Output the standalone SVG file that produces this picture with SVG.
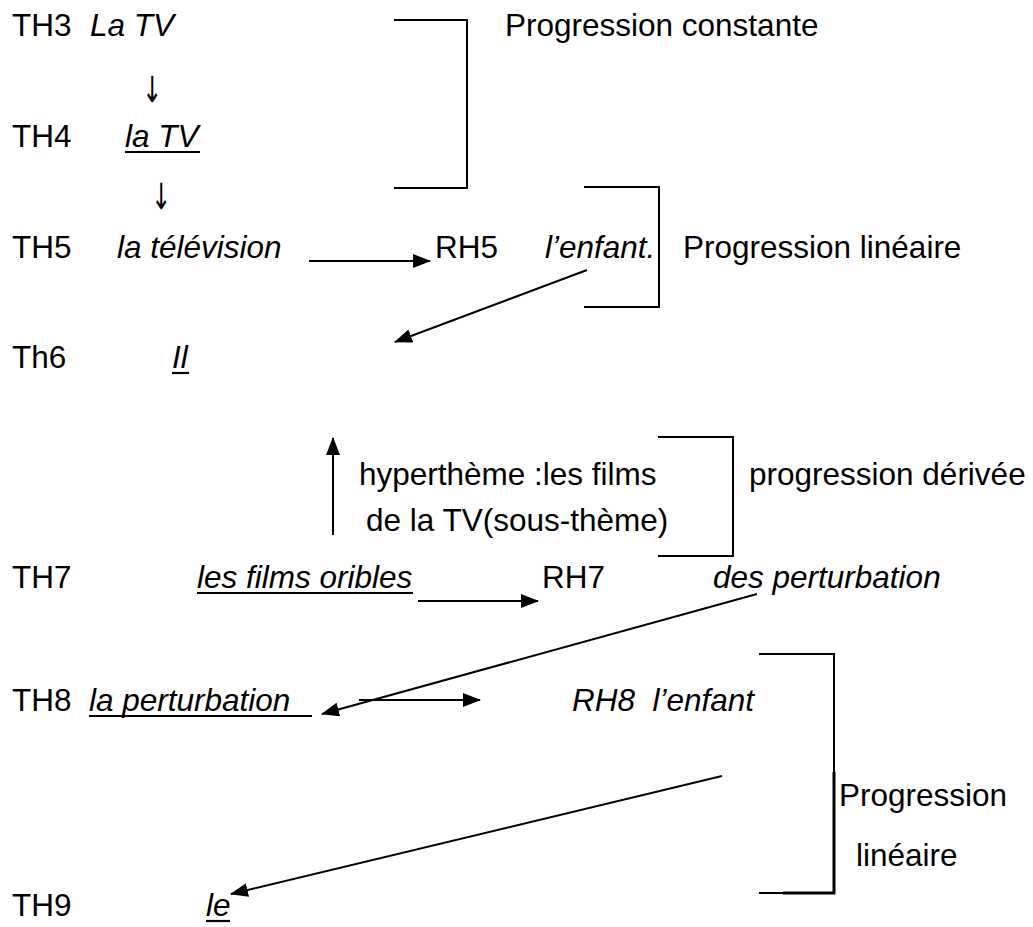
<svg xmlns="http://www.w3.org/2000/svg" width="1033" height="927" viewBox="0 0 1033 927">
<style>
text{font-family:"Liberation Sans",Arial,sans-serif;font-size:31.5px;fill:#000}
.i{font-style:italic}
.u{stroke:#000;stroke-width:2.2}
.c{stroke:#000;stroke-width:2;fill:none}
.b{stroke:#000;stroke-width:2;fill:none}
.arr{font-family:"DejaVu Sans",sans-serif;font-size:24px}
</style>
<defs>
<marker id="ah" markerUnits="userSpaceOnUse" markerWidth="18" markerHeight="14" refX="17" refY="7" orient="auto">
<path d="M0,0 L18,7 L0,14 z" fill="#000"/>
</marker>
</defs>
<rect width="1033" height="927" fill="#fff"/>
<g id="th3"><text x="12" y="36">TH3</text><text class="i" x="90" y="36">La TV</text></g>
<g id="th4"><text x="12" y="147">TH4</text><text class="i" x="125" y="147">la TV</text><line class="u" x1="125" y1="152" x2="200" y2="152"/></g>
<g id="th5"><text x="12" y="258">TH5</text><text class="i" x="117" y="258">la télévision</text></g>
<g id="rh5"><text x="435" y="258">RH5</text><text class="i" x="545" y="258">l’enfant.</text></g>
<g id="th6"><text x="12" y="368">Th6</text><text class="i" x="172" y="368">Il</text><line class="u" x1="172" y1="373" x2="189" y2="373"/></g>
<g id="hyper"><text x="359" y="485">hyperthème :les films</text><text x="366" y="531">de la TV(sous-thème)</text></g>
<g id="th7"><text x="12" y="588">TH7</text><text class="i" x="197" y="588">les films oribles</text><line class="u" x1="197" y1="593" x2="413" y2="593"/></g>
<g id="rh7"><text x="542" y="588">RH7</text><text class="i" x="713" y="588">des perturbation</text></g>
<g id="th8"><text x="12" y="711">TH8</text><text class="i" x="89" y="711">la perturbation</text><line class="u" x1="89" y1="716" x2="312" y2="716"/></g>
<g id="rh8"><text class="i" x="572" y="711">RH8 &#160;l’enfant</text></g>
<g id="th9"><text x="12" y="916">TH9</text><text class="i" x="206" y="916">le</text><line class="u" x1="206" y1="921" x2="230" y2="921"/></g>
<g id="brackets">
<polyline class="b" points="394,20 467,20 467,188 394,188"/>
<text x="505" y="36">Progression constante</text>
<polyline class="b" points="584,187 659,187 659,307 584,307"/>
<text x="683" y="258">Progression linéaire</text>
<polyline class="b" points="658,437 733,437 733,556 658,556"/>
<text x="749" y="485">progression dérivée</text>
<polyline class="b" points="759,654 834,654 834,773"/>
<line x1="834" y1="772" x2="834" y2="894" stroke="#000" stroke-width="3"/>
<line x1="759" y1="893" x2="784" y2="893" stroke="#000" stroke-width="2"/>
<line x1="783" y1="893" x2="835" y2="893" stroke="#000" stroke-width="3"/>
<text x="839" y="806">Progression</text>
<text x="856" y="866">linéaire</text>
</g>
<g id="connectors">
<text class="arr" transform="translate(142,102) scale(1,1.5)">↓</text>
<text class="arr" transform="translate(151,209) scale(1,1.5)">↓</text>
<line class="c" x1="309" y1="261" x2="430" y2="261" marker-end="url(#ah)"/>
<line class="c" x1="587" y1="270" x2="395" y2="342" marker-end="url(#ah)"/>
<line class="c" x1="333" y1="535" x2="333" y2="438" marker-end="url(#ah)"/>
<line class="c" x1="418" y1="601" x2="538" y2="601" marker-end="url(#ah)"/>
<line class="c" x1="757" y1="594" x2="322" y2="714" marker-end="url(#ah)"/>
<line class="c" x1="359" y1="700" x2="480" y2="700" marker-end="url(#ah)"/>
<line class="c" x1="722" y1="776" x2="231" y2="894" marker-end="url(#ah)"/>
</g>
</svg>
